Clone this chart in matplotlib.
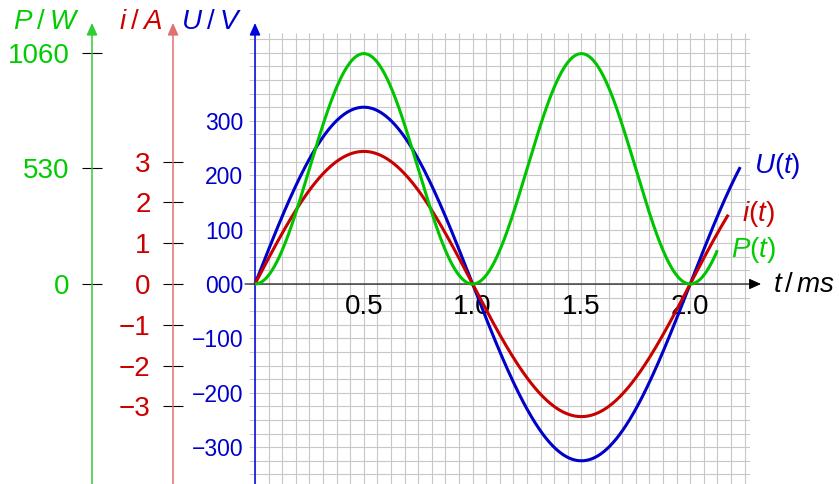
import numpy as np
import matplotlib.pyplot as plt
from matplotlib.patches import ArrowStyle

plt.rcParams['font.family'] = ['Liberation Sans', 'DejaVu Sans']
plt.rcParams['mathtext.fontset'] = 'custom'
plt.rcParams['mathtext.rm'] = 'Liberation Sans'
plt.rcParams['mathtext.it'] = 'Liberation Sans:italic'
plt.rcParams['mathtext.bf'] = 'Liberation Sans:bold'

# AC signal: period in ms, peak voltage in V, peak current in A
period_ms = 2.0
u_peak = 325.0
i_peak = 3.25
# where each trace stops (ms)
t_end_u = 2.23
t_end_i = 2.175
t_end_p = 2.125

x_ticks = [0.5, 1.0, 1.5, 2.0]
x_tick_labels = ['0.5', '1.0', '1.5', '2.0']
u_ticks = [-300, -200, -100, 0, 100, 200, 300]
u_tick_labels = ['\u2212300', '\u2212200', '\u2212100', '000', '100', '200', '300']
i_ticks = [-3, -2, -1, 0, 1, 2, 3]
i_tick_labels = ['\u22123', '\u22122', '\u22121', '0', '1', '2', '3']
p_ticks = [0, 530, 1060]
p_tick_labels = ['0', '530', '1060']

c_u, c_i, c_p = '#0000c8', '#c80000', '#00c400'
t_u, t_i, t_p = '#0000cc', '#cc0000', '#00cc00'

# page layout in pixels
W, H = 839, 484
G = 13.6                 # grid cell
X0, Y0 = 255, 284        # origin
LEFT, RIGHT, TOP = 249, 750, 33
per_cell_t = 1 / 16      # ms per cell
per_cell_u = 25          # V per cell
per_cell_i = 1 / 3       # A per cell
per_cell_p = 1060 / 17   # W per cell


def ylims(per_cell):
    return (-(H - Y0) / G * per_cell, (Y0 - TOP) / G * per_cell)


def px_to_ms(x_px):
    return (x_px - X0) / G * per_cell_t


fig = plt.figure(figsize=(W / 100, H / 100), dpi=100)
rect = [LEFT / W, 0, (RIGHT - LEFT) / W, (H - TOP) / H]
xlim = (px_to_ms(LEFT), px_to_ms(RIGHT))
arrow_top = 1 + 10 / (H - TOP)
head = ArrowStyle('-|>', head_length=0.6, head_width=0.27)

ax = fig.add_axes(rect)
ax_i = fig.add_axes(rect, facecolor='none')
ax_p = fig.add_axes(rect, facecolor='none')
for a, per in ((ax, per_cell_u), (ax_i, per_cell_i), (ax_p, per_cell_p)):
    a.set_xlim(xlim)
    a.set_ylim(ylims(per))
    for s in a.spines.values():
        s.set_visible(False)

# millimetre-paper grid behind everything
ylo, yhi = ylims(per_cell_u)
ax.vlines(np.arange(0, 2.26, 1 / 16), ylo, yhi, color='#c8c8c8', lw=0.8, zorder=0.5)
ax.hlines(np.arange(-350, 451, 25), *xlim, color='#c8c8c8', lw=0.8, zorder=0.5)

ax.spines['bottom'].set_position(('data', 0))
ax.spines['left'].set_position(('data', 0))
ax.set_xticks(x_ticks, x_tick_labels)
ax.set_yticks(u_ticks, u_tick_labels)
ax.tick_params(axis='x', length=0, pad=7.5, labelsize=20, labelcolor='black')
ax.tick_params(axis='y', length=0, pad=8.6, labelsize=16.5, labelcolor=t_u)

# time axis and voltage axis arrows
ax.annotate('', xy=(px_to_ms(761), 0), xytext=(px_to_ms(245), 0),
            arrowprops=dict(arrowstyle=head, color='black', lw=0.8, shrinkA=0, shrinkB=0,
                            mutation_scale=12),
            annotation_clip=False, zorder=1.8)
ax.annotate('', xy=(0, arrow_top), xytext=(0, 0), xycoords=('data', 'axes fraction'),
            arrowprops=dict(arrowstyle=head, color='#0000e0', lw=1.1, shrinkA=0, shrinkB=0,
                            mutation_scale=12),
            annotation_clip=False, zorder=1.8)

# secondary axes for current and power
for a, x_px, ticks, labels, tcol, lcol in (
        (ax_i, 173, i_ticks, i_tick_labels, t_i, '#e07070'),
        (ax_p, 92, p_ticks, p_tick_labels, t_p, '#33cc33')):
    frac = (x_px - LEFT) / (RIGHT - LEFT)
    a.spines['left'].set_position(('axes', frac))
    a.set_xticks([])
    a.set_yticks(ticks, labels)
    a.tick_params(axis='y', direction='inout', length=15, width=0.8, color='black',
                  pad=8.6, labelsize=20, labelcolor=tcol)
    a.annotate('', xy=(frac, arrow_top), xytext=(frac, 0), xycoords='axes fraction',
               arrowprops=dict(arrowstyle=head, color=lcol, lw=1.1, shrinkA=0, shrinkB=0,
                               mutation_scale=12),
               annotation_clip=False)

# axis titles above the arrows
label_base = 1 + (TOP - 29) / (H - TOP)
for a, x_px, txt, col, dx in ((ax_p, 92, r'$P\:/\:W$', t_p, -8.5),
                              (ax_i, 173, r'$i\:/\:A$', t_i, -7.5),
                              (ax, X0, r'$U\:/\:V$', t_u, -9.5)):
    frac = (x_px - LEFT) / (RIGHT - LEFT)
    a.annotate(txt, xy=(frac, label_base), xycoords='axes fraction', xytext=(dx, 0),
               textcoords='offset points', ha='right', va='baseline', fontsize=20,
               color=col, annotation_clip=False)

ax.annotate(r'$t\,/\,ms$', xy=(px_to_ms(761), 0), xytext=(8.5, -5.4),
            textcoords='offset points', ha='left', va='baseline', fontsize=20,
            color='black', annotation_clip=False)

# traces
t_u_arr = np.linspace(0, t_end_u, 600)
t_i_arr = np.linspace(0, t_end_i, 600)
t_p_arr = np.linspace(0, t_end_p, 600)
u = u_peak * np.sin(2 * np.pi * t_u_arr / period_ms)
i = i_peak * np.sin(2 * np.pi * t_i_arr / period_ms)
p = u_peak * i_peak * np.sin(2 * np.pi * t_p_arr / period_ms) ** 2

ax.plot(t_u_arr, u, color=c_u, lw=2.2, solid_capstyle='butt')
ax_i.plot(t_i_arr, i, color=c_i, lw=2.2, solid_capstyle='butt')
ax_p.plot(t_p_arr, p, color=c_p, lw=2.2, solid_capstyle='butt')

for a, tt, yy, txt, col in ((ax, t_u_arr, u, '$U(t)$', t_u),
                            (ax_i, t_i_arr, i, '$i(t)$', t_i),
                            (ax_p, t_p_arr, p, '$P(t)$', t_p)):
    a.annotate(txt, xy=(tt[-1], yy[-1]), xytext=(10, -4.5), textcoords='offset points',
               ha='left', va='baseline', fontsize=20, color=col, annotation_clip=False)

fig.savefig('out.png', dpi=100)
